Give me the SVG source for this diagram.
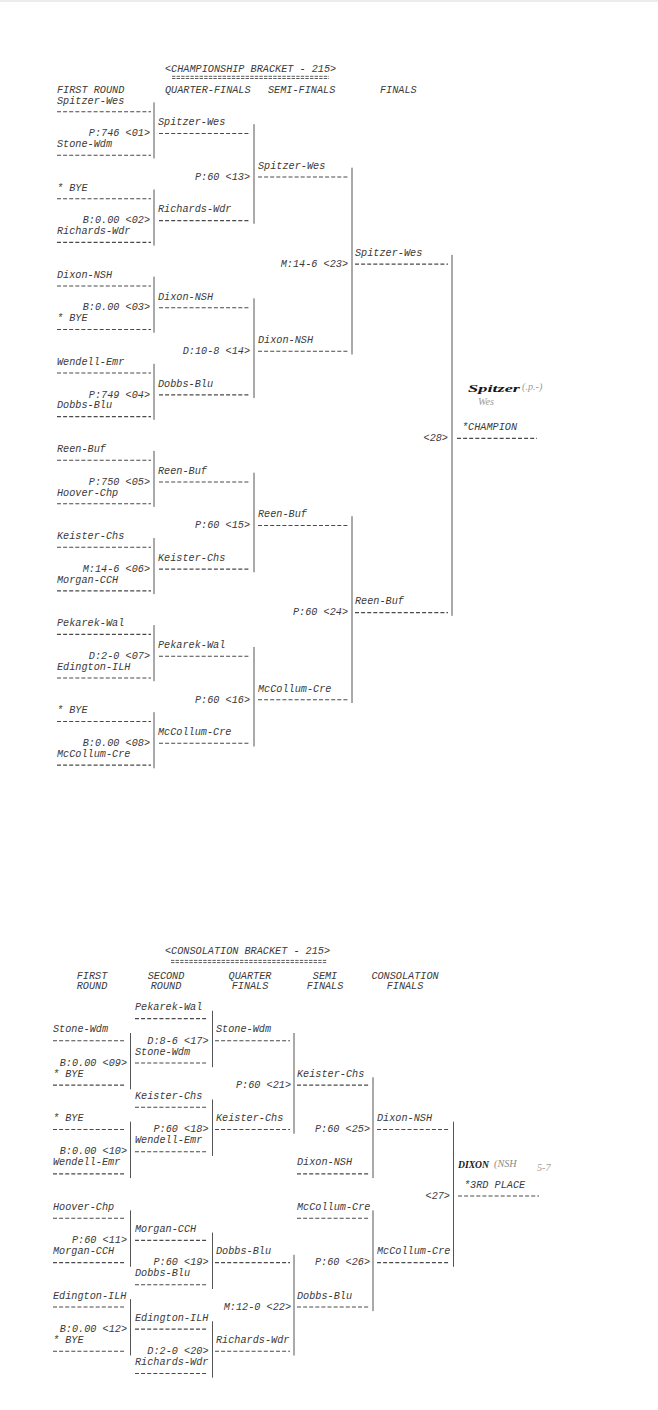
<svg xmlns="http://www.w3.org/2000/svg" width="658" height="1410" viewBox="0 0 658 1410">
<style>
text{font-family:"Liberation Mono","DejaVu Sans Mono",monospace;font-size:10.2px;font-style:italic;fill:#3a3a3a}
.s{text-anchor:end}
.m{text-anchor:middle}
.d{stroke:#4a4a4a;stroke-width:1.1;stroke-dasharray:4 2.1;fill:none}
.e{stroke:#4a4a4a;stroke-width:0.9;stroke-dasharray:3.4 1.2;fill:none}
.v{stroke:#555;stroke-width:1;fill:none}
.hw{font-family:"Liberation Serif","DejaVu Serif",serif;font-style:italic}
</style>
<rect width="658" height="1410" fill="#fff"/>
<line x1="0" y1="1" x2="658" y2="1" stroke="#d8d8d8" stroke-width="1"/>

<!-- ================= CHAMPIONSHIP ================= -->
<g id="champ-header">
<text x="165" y="71.5">&lt;CHAMPIONSHIP BRACKET - 215&gt;</text>
<line class="e" x1="172" y1="76.3" x2="329" y2="76.3"/>
<line class="e" x1="172" y1="78.5" x2="329" y2="78.5"/>
<text x="57" y="93">FIRST ROUND</text>
<text x="165" y="93">QUARTER-FINALS</text>
<text x="268" y="93">SEMI-FINALS</text>
<text x="380" y="93">FINALS</text>
</g>

<g id="champ-first-round">
<g id="c1-01a" transform="translate(57,100)"><text y="3.5">Spitzer-Wes</text><line class="d" x1="0" y1="11.7" x2="94" y2="11.7"/></g>
<g id="c1-01b" transform="translate(57,143.56)"><text y="3.5">Stone-Wdm</text><line class="d" x1="0" y1="11.7" x2="94" y2="11.7"/></g>
<g id="c1-02a" transform="translate(57,187.12)"><text y="3.5">* BYE</text><line class="d" x1="0" y1="11.7" x2="94" y2="11.7"/></g>
<g id="c1-02b" transform="translate(57,230.68)"><text y="3.5">Richards-Wdr</text><line class="d" x1="0" y1="11.7" x2="94" y2="11.7"/></g>
<g id="c1-03a" transform="translate(57,274.24)"><text y="3.5">Dixon-NSH</text><line class="d" x1="0" y1="11.7" x2="94" y2="11.7"/></g>
<g id="c1-03b" transform="translate(57,317.8)"><text y="3.5">* BYE</text><line class="d" x1="0" y1="11.7" x2="94" y2="11.7"/></g>
<g id="c1-04a" transform="translate(57,361.36)"><text y="3.5">Wendell-Emr</text><line class="d" x1="0" y1="11.7" x2="94" y2="11.7"/></g>
<g id="c1-04b" transform="translate(57,404.92)"><text y="3.5">Dobbs-Blu</text><line class="d" x1="0" y1="11.7" x2="94" y2="11.7"/></g>
<g id="c1-05a" transform="translate(57,448.48)"><text y="3.5">Reen-Buf</text><line class="d" x1="0" y1="11.7" x2="94" y2="11.7"/></g>
<g id="c1-05b" transform="translate(57,492.04)"><text y="3.5">Hoover-Chp</text><line class="d" x1="0" y1="11.7" x2="94" y2="11.7"/></g>
<g id="c1-06a" transform="translate(57,535.6)"><text y="3.5">Keister-Chs</text><line class="d" x1="0" y1="11.7" x2="94" y2="11.7"/></g>
<g id="c1-06b" transform="translate(57,579.16)"><text y="3.5">Morgan-CCH</text><line class="d" x1="0" y1="11.7" x2="94" y2="11.7"/></g>
<g id="c1-07a" transform="translate(57,622.72)"><text y="3.5">Pekarek-Wal</text><line class="d" x1="0" y1="11.7" x2="94" y2="11.7"/></g>
<g id="c1-07b" transform="translate(57,666.28)"><text y="3.5">Edington-ILH</text><line class="d" x1="0" y1="11.7" x2="94" y2="11.7"/></g>
<g id="c1-08a" transform="translate(57,709.84)"><text y="3.5">* BYE</text><line class="d" x1="0" y1="11.7" x2="94" y2="11.7"/></g>
<g id="c1-08b" transform="translate(57,753.4)"><text y="3.5">McCollum-Cre</text><line class="d" x1="0" y1="11.7" x2="94" y2="11.7"/></g>
</g>

<g id="champ-quarter-finals">
<g id="c2-1" transform="translate(158,121.78)"><text y="3.5">Spitzer-Wes</text><line class="d" x1="1" y1="11.7" x2="92" y2="11.7"/></g>
<g id="c2-2" transform="translate(158,208.9)"><text y="3.5">Richards-Wdr</text><line class="d" x1="1" y1="11.7" x2="92" y2="11.7"/></g>
<g id="c2-3" transform="translate(158,296.02)"><text y="3.5">Dixon-NSH</text><line class="d" x1="1" y1="11.7" x2="92" y2="11.7"/></g>
<g id="c2-4" transform="translate(158,383.14)"><text y="3.5">Dobbs-Blu</text><line class="d" x1="1" y1="11.7" x2="92" y2="11.7"/></g>
<g id="c2-5" transform="translate(158,470.26)"><text y="3.5">Reen-Buf</text><line class="d" x1="1" y1="11.7" x2="92" y2="11.7"/></g>
<g id="c2-6" transform="translate(158,557.38)"><text y="3.5">Keister-Chs</text><line class="d" x1="1" y1="11.7" x2="92" y2="11.7"/></g>
<g id="c2-7" transform="translate(158,644.5)"><text y="3.5">Pekarek-Wal</text><line class="d" x1="1" y1="11.7" x2="92" y2="11.7"/></g>
<g id="c2-8" transform="translate(158,731.62)"><text y="3.5">McCollum-Cre</text><line class="d" x1="1" y1="11.7" x2="92" y2="11.7"/></g>
</g>

<g id="champ-semi-finals">
<g id="c3-1" transform="translate(258,165.34)"><text y="3.5">Spitzer-Wes</text><line class="d" x1="0" y1="11.7" x2="90" y2="11.7"/></g>
<g id="c3-2" transform="translate(258,339.58)"><text y="3.5">Dixon-NSH</text><line class="d" x1="0" y1="11.7" x2="90" y2="11.7"/></g>
<g id="c3-3" transform="translate(258,513.82)"><text y="3.5">Reen-Buf</text><line class="d" x1="0" y1="11.7" x2="90" y2="11.7"/></g>
<g id="c3-4" transform="translate(258,688.06)"><text y="3.5">McCollum-Cre</text><line class="d" x1="0" y1="11.7" x2="90" y2="11.7"/></g>
</g>

<g id="champ-finals">
<g id="c4-1" transform="translate(355,252.46)"><text y="3.5">Spitzer-Wes</text><line class="d" x1="0" y1="11.7" x2="93" y2="11.7"/></g>
<g id="c4-2" transform="translate(355,600.94)"><text y="3.5">Reen-Buf</text><line class="d" x1="0" y1="11.7" x2="93" y2="11.7"/></g>
</g>

<g id="champion">
<text x="462" y="430.2">*CHAMPION</text>
<line class="d" x1="457" y1="438.4" x2="537" y2="438.4"/>
<text class="hw" x="468" y="392" font-size="14" font-weight="bold" style="fill:#151515" textLength="52" lengthAdjust="spacingAndGlyphs">Spitzer</text>
<text class="hw" x="522" y="390" font-size="7.5" style="fill:#9a9a9a">(.p.-)</text>
<text class="hw" x="478" y="405" font-size="7.5" style="fill:#9a9a9a">Wes</text>
</g>

<g id="champ-scores">
<text class="s" x="150" y="136.2">P:746 &lt;01&gt;</text>
<text class="s" x="150" y="223.3">B:0.00 &lt;02&gt;</text>
<text class="s" x="150" y="310.4">B:0.00 &lt;03&gt;</text>
<text class="s" x="150" y="397.5">P:749 &lt;04&gt;</text>
<text class="s" x="150" y="484.7">P:750 &lt;05&gt;</text>
<text class="s" x="150" y="571.8">M:14-6 &lt;06&gt;</text>
<text class="s" x="150" y="658.9">D:2-0 &lt;07&gt;</text>
<text class="s" x="150" y="746.0">B:0.00 &lt;08&gt;</text>
<text class="s" x="250" y="179.7">P:60 &lt;13&gt;</text>
<text class="s" x="250" y="354.0">D:10-8 &lt;14&gt;</text>
<text class="s" x="250" y="528.2">P:60 &lt;15&gt;</text>
<text class="s" x="250" y="702.5">P:60 &lt;16&gt;</text>
<text class="s" x="348" y="266.9">M:14-6 &lt;23&gt;</text>
<text class="s" x="348" y="615.3">P:60 &lt;24&gt;</text>
<text class="s" x="448" y="441.1">&lt;28&gt;</text>
</g>

<g id="champ-connectors">
<line class="v" x1="154" y1="102.4" x2="154" y2="158.5"/>
<line class="v" x1="154" y1="189.5" x2="154" y2="245.6"/>
<line class="v" x1="154" y1="276.6" x2="154" y2="332.7"/>
<line class="v" x1="154" y1="363.8" x2="154" y2="419.8"/>
<line class="v" x1="154" y1="450.9" x2="154" y2="506.9"/>
<line class="v" x1="154" y1="538.0" x2="154" y2="594.1"/>
<line class="v" x1="154" y1="625.1" x2="154" y2="681.2"/>
<line class="v" x1="154" y1="712.2" x2="154" y2="768.3"/>
<line class="v" x1="254" y1="124.2" x2="254" y2="223.8"/>
<line class="v" x1="254" y1="298.4" x2="254" y2="398.0"/>
<line class="v" x1="254" y1="472.7" x2="254" y2="572.3"/>
<line class="v" x1="254" y1="646.9" x2="254" y2="746.5"/>
<line class="v" x1="352" y1="167.7" x2="352" y2="354.5"/>
<line class="v" x1="352" y1="516.2" x2="352" y2="703.0"/>
<line class="v" x1="452" y1="254.9" x2="452" y2="615.8"/>
</g>

<!-- ================= CONSOLATION ================= -->
<g id="cons-header">
<text x="165" y="953.5">&lt;CONSOLATION BRACKET - 215&gt;</text>
<line class="e" x1="171" y1="960.4" x2="327" y2="960.4"/>
<line class="e" x1="171" y1="962.6" x2="327" y2="962.6"/>
<text class="m" x="92" y="978.5">FIRST</text>
<text class="m" x="92" y="988.5">ROUND</text>
<text class="m" x="166" y="978.5">SECOND</text>
<text class="m" x="166" y="988.5">ROUND</text>
<text class="m" x="250" y="978.5">QUARTER</text>
<text class="m" x="250" y="988.5">FINALS</text>
<text class="m" x="325" y="978.5">SEMI</text>
<text class="m" x="325" y="988.5">FINALS</text>
<text class="m" x="405" y="978.5">CONSOLATION</text>
<text class="m" x="405" y="988.5">FINALS</text>
</g>

<g id="cons-first-round">
<g id="k1-09a" transform="translate(53,1028.88)"><text y="3.5">Stone-Wdm</text><line class="d" x1="0" y1="11.9" x2="71" y2="11.9"/></g>
<g id="k1-09b" transform="translate(53,1073.24)"><text y="3.5">* BYE</text><line class="d" x1="0" y1="11.9" x2="71" y2="11.9"/></g>
<g id="k1-10a" transform="translate(53,1117.6)"><text y="3.5">* BYE</text><line class="d" x1="0" y1="11.9" x2="71" y2="11.9"/></g>
<g id="k1-10b" transform="translate(53,1161.96)"><text y="3.5">Wendell-Emr</text><line class="d" x1="0" y1="11.9" x2="71" y2="11.9"/></g>
<g id="k1-11a" transform="translate(53,1206.32)"><text y="3.5">Hoover-Chp</text><line class="d" x1="0" y1="11.9" x2="71" y2="11.9"/></g>
<g id="k1-11b" transform="translate(53,1250.68)"><text y="3.5">Morgan-CCH</text><line class="d" x1="0" y1="11.9" x2="71" y2="11.9"/></g>
<g id="k1-12a" transform="translate(53,1295.04)"><text y="3.5">Edington-ILH</text><line class="d" x1="0" y1="11.9" x2="71" y2="11.9"/></g>
<g id="k1-12b" transform="translate(53,1339.4)"><text y="3.5">* BYE</text><line class="d" x1="0" y1="11.9" x2="71" y2="11.9"/></g>
</g>

<g id="cons-second-round">
<g id="k2-17a" transform="translate(135,1006.7)"><text y="3.5">Pekarek-Wal</text><line class="d" x1="0" y1="11.9" x2="73" y2="11.9"/></g>
<g id="k2-17b" transform="translate(135,1051.06)"><text y="3.5">Stone-Wdm</text><line class="d" x1="0" y1="11.9" x2="73" y2="11.9"/></g>
<g id="k2-18a" transform="translate(135,1095.42)"><text y="3.5">Keister-Chs</text><line class="d" x1="0" y1="11.9" x2="73" y2="11.9"/></g>
<g id="k2-18b" transform="translate(135,1139.78)"><text y="3.5">Wendell-Emr</text><line class="d" x1="0" y1="11.9" x2="73" y2="11.9"/></g>
<g id="k2-19a" transform="translate(135,1228.5)"><text y="3.5">Morgan-CCH</text><line class="d" x1="0" y1="11.9" x2="73" y2="11.9"/></g>
<g id="k2-19b" transform="translate(135,1272.86)"><text y="3.5">Dobbs-Blu</text><line class="d" x1="0" y1="11.9" x2="73" y2="11.9"/></g>
<g id="k2-20a" transform="translate(135,1317.22)"><text y="3.5">Edington-ILH</text><line class="d" x1="0" y1="11.9" x2="73" y2="11.9"/></g>
<g id="k2-20b" transform="translate(135,1361.58)"><text y="3.5">Richards-Wdr</text><line class="d" x1="0" y1="11.9" x2="73" y2="11.9"/></g>
</g>

<g id="cons-quarter-finals">
<g id="k3-21a" transform="translate(216,1028.88)"><text y="3.5">Stone-Wdm</text><line class="d" x1="-1" y1="11.9" x2="74" y2="11.9"/></g>
<g id="k3-21b" transform="translate(216,1117.6)"><text y="3.5">Keister-Chs</text><line class="d" x1="-1" y1="11.9" x2="74" y2="11.9"/></g>
<g id="k3-22a" transform="translate(216,1250.68)"><text y="3.5">Dobbs-Blu</text><line class="d" x1="-1" y1="11.9" x2="74" y2="11.9"/></g>
<g id="k3-22b" transform="translate(216,1339.4)"><text y="3.5">Richards-Wdr</text><line class="d" x1="-1" y1="11.9" x2="74" y2="11.9"/></g>
</g>

<g id="cons-semi-finals">
<g id="k4-25a" transform="translate(297,1073.24)"><text y="3.5">Keister-Chs</text><line class="d" x1="0" y1="11.9" x2="73" y2="11.9"/></g>
<g id="k4-25b" transform="translate(297,1161.96)"><text y="3.5">Dixon-NSH</text><line class="d" x1="0" y1="11.9" x2="73" y2="11.9"/></g>
<g id="k4-26a" transform="translate(297,1206.32)"><text y="3.5">McCollum-Cre</text><line class="d" x1="0" y1="11.9" x2="73" y2="11.9"/></g>
<g id="k4-26b" transform="translate(297,1295.04)"><text y="3.5">Dobbs-Blu</text><line class="d" x1="0" y1="11.9" x2="73" y2="11.9"/></g>
</g>

<g id="cons-finals">
<g id="k5-27a" transform="translate(377,1117.6)"><text y="3.5">Dixon-NSH</text><line class="d" x1="0" y1="11.9" x2="73" y2="11.9"/></g>
<g id="k5-27b" transform="translate(377,1250.68)"><text y="3.5">McCollum-Cre</text><line class="d" x1="0" y1="11.9" x2="73" y2="11.9"/></g>
</g>

<g id="third-place">
<text x="464" y="1187.6">*3RD PLACE</text>
<line class="d" x1="458" y1="1196" x2="539" y2="1196"/>
<text class="hw" x="458" y="1168" font-size="10" font-weight="bold" style="fill:#151515" textLength="31" lengthAdjust="spacingAndGlyphs">DIXON</text>
<text class="hw" x="494" y="1166.5" font-size="8" style="fill:#8a8a8a">(NSH</text>
<text class="hw" x="537" y="1171" font-size="8" style="fill:#a0a0a0">5-7</text>
</g>

<g id="cons-scores">
<text class="s" x="127" y="1065.7">B:0.00 &lt;09&gt;</text>
<text class="s" x="127" y="1154.4">B:0.00 &lt;10&gt;</text>
<text class="s" x="127" y="1243.1">P:60 &lt;11&gt;</text>
<text class="s" x="127" y="1331.8">B:0.00 &lt;12&gt;</text>
<text class="s" x="208.5" y="1043.5">D:8-6 &lt;17&gt;</text>
<text class="s" x="208.5" y="1132.2">P:60 &lt;18&gt;</text>
<text class="s" x="208.5" y="1265.3">P:60 &lt;19&gt;</text>
<text class="s" x="208.5" y="1354.0">D:2-0 &lt;20&gt;</text>
<text class="s" x="291" y="1087.8">P:60 &lt;21&gt;</text>
<text class="s" x="291" y="1309.6">M:12-0 &lt;22&gt;</text>
<text class="s" x="370" y="1132.2">P:60 &lt;25&gt;</text>
<text class="s" x="370" y="1265.3">P:60 &lt;26&gt;</text>
<text class="s" x="450" y="1198.7">&lt;27&gt;</text>
</g>

<g id="cons-connectors">
<line class="v" x1="130.5" y1="1033.0" x2="130.5" y2="1089.3"/>
<line class="v" x1="130.5" y1="1121.7" x2="130.5" y2="1178.1"/>
<line class="v" x1="130.5" y1="1210.4" x2="130.5" y2="1266.8"/>
<line class="v" x1="130.5" y1="1299.1" x2="130.5" y2="1355.5"/>
<line class="v" x1="212.5" y1="1010.8" x2="212.5" y2="1067.2"/>
<line class="v" x1="212.5" y1="1099.5" x2="212.5" y2="1155.9"/>
<line class="v" x1="212.5" y1="1232.6" x2="212.5" y2="1289.0"/>
<line class="v" x1="212.5" y1="1321.3" x2="212.5" y2="1377.7"/>
<line class="v" x1="294" y1="1033.0" x2="294" y2="1133.7"/>
<line class="v" x1="294" y1="1254.8" x2="294" y2="1355.5"/>
<line class="v" x1="373" y1="1077.3" x2="373" y2="1178.1"/>
<line class="v" x1="373" y1="1210.4" x2="373" y2="1311.1"/>
<line class="v" x1="453.5" y1="1121.7" x2="453.5" y2="1266.8"/>
</g>
</svg>
